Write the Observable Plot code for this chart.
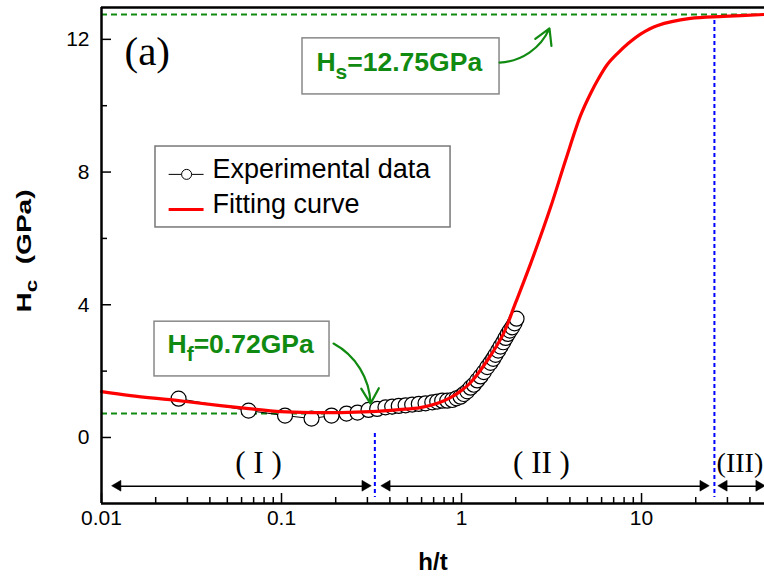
<!DOCTYPE html>
<html><head><meta charset="utf-8">
<script src="https://cdn.jsdelivr.net/npm/d3@7"></script>
<script src="https://cdn.jsdelivr.net/npm/@observablehq/plot@0.6"></script>
<style>body{margin:0;background:#fff}</style>
</head><body><div id="chart"></div>
<script>
// Experimental data (h/t, Hc in GPa)
const expX = [0.0268, 0.0656, 0.1046, 0.1468, 0.1896, 0.2297, 0.2643, 0.3043, 0.340, 0.378, 0.412, 0.448, 0.489, 0.532, 0.579, 0.631, 0.688, 0.733, 0.781, 0.833, 0.888, 0.938, 0.987, 1.030, 1.076, 1.122, 1.170, 1.222, 1.275, 1.330, 1.389, 1.449, 1.500, 1.545, 1.599, 1.647, 1.705, 1.756, 1.808, 1.855, 1.913, 1.970, 2.021];
const expY = [1.17, 0.81, 0.66, 0.57, 0.66, 0.72, 0.75, 0.83, 0.86, 0.91, 0.93, 0.95, 0.97, 0.99, 1.01, 1.03, 1.06, 1.08, 1.11, 1.11, 1.13, 1.18, 1.23, 1.31, 1.39, 1.50, 1.59, 1.72, 1.84, 1.97, 2.12, 2.25, 2.37, 2.49, 2.62, 2.74, 2.87, 3.00, 3.12, 3.22, 3.32, 3.44, 3.58];
// Fitting curve
const fitX = [0.01, 0.0145, 0.0268, 0.0458, 0.0656, 0.099, 0.147, 0.213, 0.313, 0.45, 0.591, 0.75, 0.868, 1.0, 1.12, 1.39, 1.71, 1.99, 2.42, 3.12, 3.78, 4.58, 5.21, 5.77, 6.47, 7.36, 8.36, 9.87, 12.3, 18.7, 28.5, 48.2];
const fitY = [1.38, 1.26, 1.11, 0.96, 0.87, 0.78, 0.75, 0.75, 0.78, 0.84, 0.90, 1.05, 1.20, 1.42, 1.65, 2.32, 3.13, 4.04, 5.24, 6.93, 8.35, 9.70, 10.37, 10.82, 11.25, 11.58, 11.86, 12.16, 12.42, 12.63, 12.69, 12.75];

const xMajorTicks = [0.01, 0.1, 1, 10];
const xMinorTicks = [0.02,0.03,0.04,0.05,0.06,0.07,0.08,0.09,0.2,0.3,0.4,0.5,0.6,0.7,0.8,0.9,2,3,4,5,6,7,8,9,20,30,40];
const yMajorTicks = [0, 4, 8, 12];
const yMinorTicks = [2, 6, 10];

const Hs = 12.75, Hf = 0.72;
const boundaryX = [0.33, 25.4];
const boundaryTop = [0.12, 12.57];
const regionNames = ["( I )", "( II )", "(III)"];
const regionCenter = [0.0745, 2.78, 35.2];
const regionStart = [0.0124, 0.388, 28.9];
const regionEnd = [0.293, 22.1, 45.2];

const xDomain = [0.01, 48.2], yDomain = [-1.99, 12.96];
const font = "Liberation Sans, Arial, sans-serif";
const serif = "Liberation Serif, Times New Roman, serif";
const green = "#108a10";

const exp = expX.map((x, i) => ({x, y: expY[i]}));
const fit = fitX.map((x, i) => ({x, y: fitY[i]}));
const regions = regionNames.map((name, i) => ({name, c: regionCenter[i], x1: regionStart[i], x2: regionEnd[i], y: -1.47, fs: i === 2 ? 28 : 31}));
const heads = regions.flatMap(r => [{x: r.x1, y: r.y, rot: -90, dx: 3}, {x: r.x2, y: r.y, rot: 90, dx: -3}]);

const W = 764, H = 582, mL = 101, mR = 0, mT = 7, mB = 79;
const plotH = H - mT - mB, plotW = W - mL - mR;

const chart = Plot.plot({
  width: W, height: H,
  marginLeft: mL, marginRight: mR, marginTop: mT, marginBottom: mB,
  x: {type: "log", domain: xDomain, axis: null},
  y: {domain: yDomain, axis: null},
  style: {fontFamily: font, background: "white", color: "black"},
  marks: [
    Plot.ruleY([Hs], {stroke: green, strokeWidth: 2, strokeDasharray: "6,4"}),
    Plot.ruleY([Hf], {x1: 0.01, x2: 0.42, stroke: green, strokeWidth: 2, strokeDasharray: "6,4"}),
    Plot.ruleX(boundaryX, {x: d => d, y1: (d, i) => boundaryTop[i], y2: -1.81, stroke: "#0000ff", strokeWidth: 2, strokeDasharray: "4,3"}),
    Plot.line(exp, {x: "x", y: "y", stroke: "black", strokeWidth: 1}),
    Plot.dot(exp, {x: "x", y: "y", r: 7.5, fill: "white", stroke: "black", strokeWidth: 1.2}),
    Plot.line(fit, {x: "x", y: "y", stroke: "#ff0000", strokeWidth: 3.2, curve: "catmull-rom"}),
    Plot.ruleX([xDomain[0]], {stroke: "black", strokeWidth: 2.5}),
    Plot.ruleY([yDomain[0]], {stroke: "black", strokeWidth: 2.5}),
    Plot.ruleY([yDomain[1]], {stroke: "black", strokeWidth: 2.5}),
    Plot.tickX(xMajorTicks, {x: d => d, insetTop: plotH - 10, stroke: "black", strokeWidth: 1.5}),
    Plot.tickX(xMinorTicks, {x: d => d, insetTop: plotH - 6, stroke: "black", strokeWidth: 1.5}),
    Plot.tickY(yMajorTicks, {y: d => d, insetRight: plotW - 10, stroke: "black", strokeWidth: 1.5}),
    Plot.tickY(yMinorTicks, {y: d => d, insetRight: plotW - 6, stroke: "black", strokeWidth: 1.5}),
    Plot.text(xMajorTicks, {x: d => d, frameAnchor: "bottom", dy: 21, text: d => String(d), fontSize: 21}),
    Plot.text(yMajorTicks, {y: d => d, frameAnchor: "left", dx: -12, textAnchor: "end", text: d => String(d), fontSize: 21}),
    Plot.text(["h/t"], {frameAnchor: "bottom", dy: 66, text: d => d, fontSize: 24, fontWeight: "bold"}),
    Plot.text(["Hc"], {frameAnchor: "left", dx: -80, rotate: -90, text: d => d, fontSize: 20, fontWeight: "bold", className: "ytitle"}),
    Plot.link(regions, {x1: "x1", x2: "x2", y1: "y", y2: "y", stroke: "black", strokeWidth: 1.5}),
    Plot.dot(heads, {x: "x", y: "y", dx: "dx", rotate: "rot", symbol: "triangle", r: 4, fill: "black", stroke: "black", strokeWidth: 0.5}),
    Plot.text(regions, {x: "c", y: -0.76, text: "name", fontFamily: serif, fontSize: "fs"}),
    Plot.text(["(a)"], {x: 0.01342, y: 11.63, text: d => d, textAnchor: "start", fontFamily: serif, fontSize: 41}),
    // legend
    Plot.rect([0], {x1: 0.01995, x2: 0.869, y1: 8.77, y2: 6.33, fill: "white", stroke: "#777", strokeWidth: 1.5}),
    Plot.link([0], {x1: 0.0236, x2: 0.0369, y1: 7.93, y2: 7.93, stroke: "black", strokeWidth: 1}),
    Plot.dot([0], {x: 0.0297, y: 7.93, r: 5, fill: "white", stroke: "black", strokeWidth: 1}),
    Plot.link([0], {x1: 0.0236, x2: 0.0369, y1: 6.87, y2: 6.87, stroke: "#ff0000", strokeWidth: 3}),
    Plot.text(["Experimental data", "Fitting curve"], {x: 0.0414, y: (d, i) => i === 0 ? 8.08 : 7.02, text: d => d, textAnchor: "start", fontSize: 27}),
    // annotations
    Plot.rect([0], {x1: 0.1308, x2: 1.626, y1: 12.03, y2: 10.34, fill: "white", stroke: "#888", strokeWidth: 1.5}),
    Plot.text(["Hs"], {x: 0.1564, y: 11.30, text: d => d, textAnchor: "start", fontSize: 26.5, fontWeight: "bold", fill: green, className: "hslabel"}),
    Plot.arrow([0], {x1: 1.626, y1: 11.30, x2: 3.08, y2: 12.33, bend: -32, stroke: green, strokeWidth: 2.2, headLength: 12}),
    Plot.rect([0], {x1: 0.0197, x2: 0.1848, y1: 3.49, y2: 1.84, fill: "white", stroke: "#888", strokeWidth: 1.5}),
    Plot.text(["Hf"], {x: 0.02326, y: 2.80, text: d => d, textAnchor: "start", fontSize: 26.5, fontWeight: "bold", fill: green, className: "hflabel"}),
    Plot.arrow([0], {x1: 0.1945, y1: 2.83, x2: 0.312, y2: 1.02, bend: 30, stroke: green, strokeWidth: 2.2, headLength: 12})
  ]
});

function subscriptify(svg, cls, main, sub, rest, subSize, shift) {
  d3.select(svg).selectAll(`.${cls} text`).each(function() {
    const t = d3.select(this);
    t.text(null);
    t.append("tspan").text(main);
    t.append("tspan").attr("dy", shift).attr("font-size", subSize).text(sub);
    t.append("tspan").attr("dy", -shift).text(rest);
  });
}
subscriptify(chart, "hslabel", "H", "s", "=12.75GPa", 21, 8);
subscriptify(chart, "hflabel", "H", "f", "=0.72GPa", 21, 8);
subscriptify(chart, "ytitle", "H", "c", "  (GPa)", 16, 6);
document.getElementById("chart").appendChild(chart);

// stretch the y title along its direction and centre it beside the frame
d3.select(chart).selectAll(".ytitle text").each(function() {
  const svgRect = chart.getBoundingClientRect();
  const tr = this.getAttribute("transform") || "";
  this.setAttribute("transform", tr + " scale(1.4,1)");
  const r = this.getBoundingClientRect();
  const targetX = svgRect.left + 27, targetY = svgRect.top + mT + plotH / 2 - 4;
  const dxShift = targetX - (r.left + r.width / 2);
  const dyShift = targetY - (r.top + r.height / 2);
  this.setAttribute("transform", `translate(${dxShift},${dyShift}) ` + tr + " scale(1.4,1)");
});
</script>
</body></html>
